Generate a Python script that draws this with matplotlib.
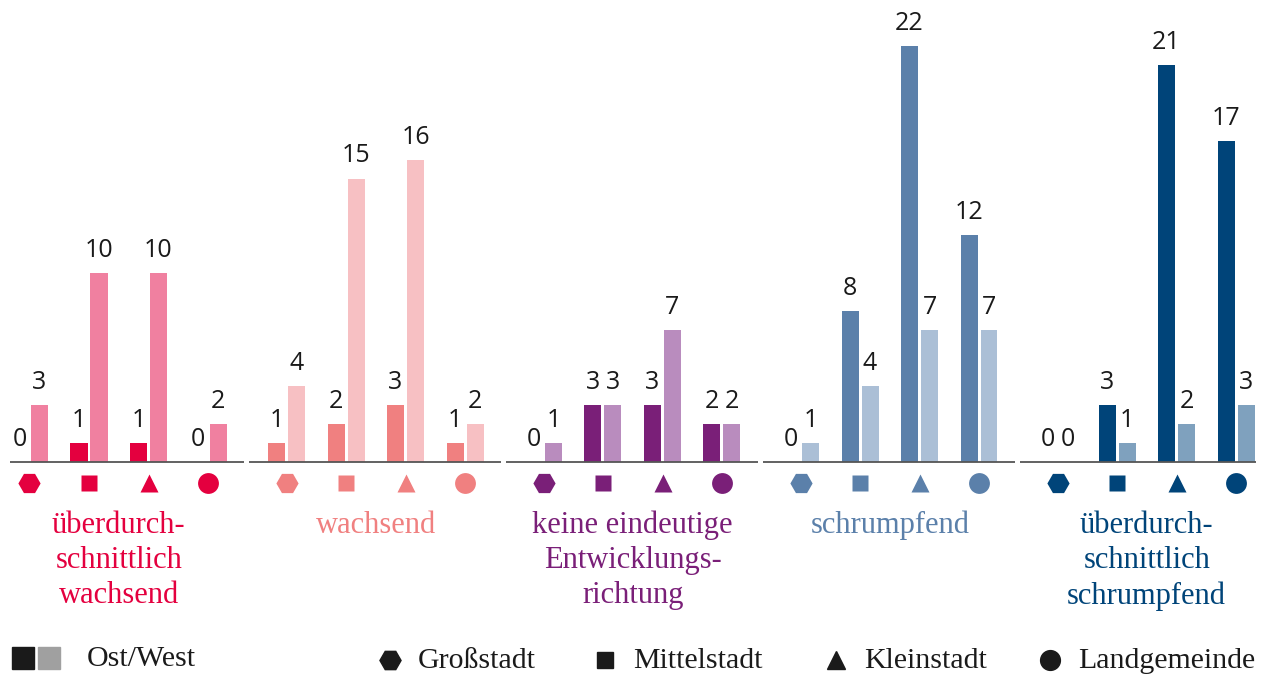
import numpy as np
import matplotlib
matplotlib.use("Agg")
import matplotlib.pyplot as plt
from matplotlib.patches import Rectangle

groups = ["überdurch-\nschnittlich\nwachsend", "wachsend",
          "keine eindeutige\nEntwicklungs-\nrichtung", "schrumpfend",
          "überdurch-\nschnittlich\nschrumpfend"]
types = ["Großstadt", "Mittelstadt", "Kleinstadt", "Landgemeinde"]
ost = [[0, 1, 1, 0],
       [1, 2, 3, 1],
       [0, 3, 3, 2],
       [0, 8, 22, 12],
       [0, 3, 21, 17]]
west = [[3, 10, 10, 2],
        [4, 15, 16, 2],
        [1, 3, 7, 2],
        [1, 4, 7, 7],
        [0, 1, 2, 3]]
ost_colors = ["#E4003F", "#F08080", "#7A1F78", "#5B80AA", "#004479"]
west_colors = ["#F080A0", "#F7C0C3", "#B98CBE", "#ABBFD6", "#7FA1BE"]
markers = ["H", "s", "^", "o"]
msizes = [16, 12, 13, 15]

num_font = ["Open Sans", "DejaVu Sans"]
txt_font = ["Liberation Serif", "DejaVu Serif"]

fig = plt.figure(figsize=(12.75, 6.77), dpi=100)
ax = fig.add_axes([10 / 1275, 0, 1246 / 1275, 1])
px = 59.5            # pixels per city-type step
unit = 18.9          # pixels per count
ax.set_xlim((10 - 29.5) / px, (1256 - 29.5) / px)
ax.set_ylim(-(677 - 462) / unit, 462 / unit)
ax.axis("off")

gstep = 257 / px
bw = 17 / px
off = 10 / px

for g in range(len(groups)):
    base = g * gstep
    ax.plot([base - 0.63, base + 3.6], [0, 0], color="#555555", lw=1.3,
            solid_capstyle="butt", zorder=3)
    for t in range(4):
        xc = base + t
        for v, dx, col in [(ost[g][t], -off, ost_colors[g]),
                           (west[g][t], off, west_colors[g])]:
            if v > 0:
                ax.bar(xc + dx, v, width=bw, color=col, zorder=2)
            ax.text(xc + dx, v + 16 / unit, str(v), ha="center",
                    va="baseline", fontsize=18, color="#1a1a1a",
                    family=num_font)
        ax.plot(xc, -(483 - 462) / unit, marker=markers[t], ms=msizes[t],
                color=ost_colors[g], mec="none", ls="none", clip_on=False)
    ax.text(base + 1.5, -(511 - 462) / unit, groups[g], ha="center", va="top",
            fontsize=22, color=ost_colors[g], family=txt_font,
            linespacing=1.27)

# legend at bottom
def fx(p):
    return (p - 29.5) / px

ly = -(668 - 462) / unit
ax.add_patch(Rectangle((fx(12), -(669 - 462) / unit), 22 / px, 22 / unit,
                       color="#1a1a1a", clip_on=False))
ax.add_patch(Rectangle((fx(38), -(669 - 462) / unit), 22 / px, 22 / unit,
                       color="#a0a0a0", clip_on=False))
ax.text(fx(87), -(666 - 462) / unit, "Ost/West", ha="left", va="baseline",
        fontsize=21.5, color="#1a1a1a", family=txt_font)
leg_x = [390, 605, 836, 1050]
for t in range(4):
    ax.plot(fx(leg_x[t]), -(660 - 462) / unit, marker=markers[t],
            ms=msizes[t] * 0.95, color="#1a1a1a", ls="none", clip_on=False)
    ax.text(fx(leg_x[t] + 28), ly, types[t], ha="left", va="baseline",
            fontsize=21.5, color="#1a1a1a", family=txt_font)

fig.savefig("out.png", dpi=100)
